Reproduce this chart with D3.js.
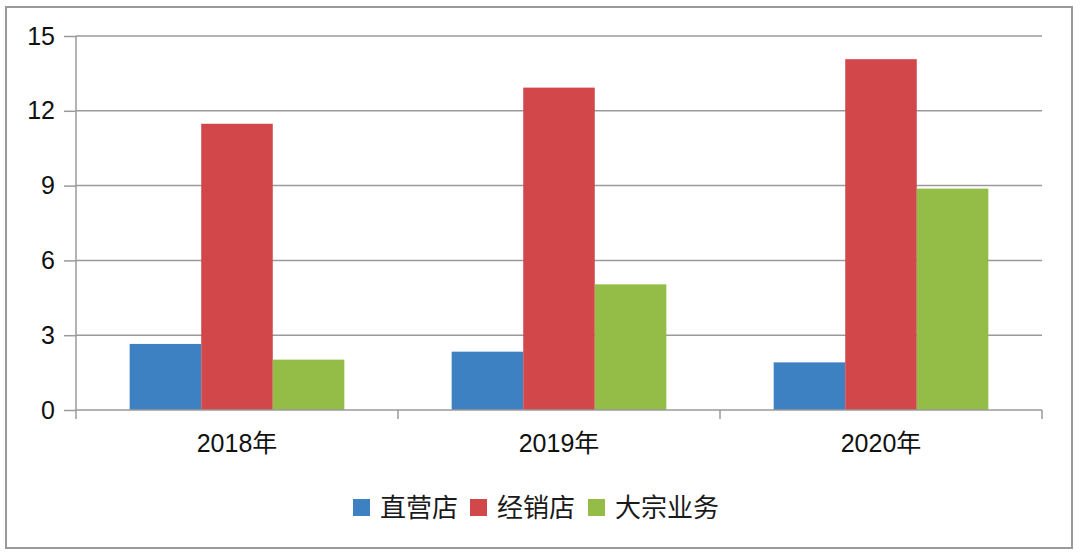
<!DOCTYPE html>
<html>
<head>
<meta charset="utf-8">
<script src="https://cdn.jsdelivr.net/npm/d3@7"></script>
<style>
  body { margin: 0; background: #fff; }
  svg { display: block; }
</style>
</head>
<body>
<div id="chart"></div>
<script>
const categories = ['2018年', '2019年', '2020年'];
const seriesNames = ['直营店', '经销店', '大宗业务'];
const directStores = [2.65, 2.34, 1.91];
const dealerStores = [11.48, 12.93, 14.07];
const bulkBusiness = [2.02, 5.04, 8.88];
const yTicks = [0, 3, 6, 9, 12, 15];
const colors = ['#3d81c3', '#d2474a', '#93bd47'];

const allSeries = [directStores, dealerStores, bulkBusiness];

const width = 1080, height = 557;
const margin = {top: 36, right: 38, bottom: 147, left: 76};
const innerW = width - margin.left - margin.right;
const innerH = height - margin.top - margin.bottom;

const svg = d3.select('#chart')
    .append('svg')
    .attr('width', width)
    .attr('height', height);

// outer frame
svg.append('rect')
    .attr('x', 6).attr('y', 7)
    .attr('width', 1066).attr('height', 541)
    .attr('fill', 'none')
    .attr('stroke', '#9a9a9a')
    .attr('stroke-width', 2);

const g = svg.append('g')
    .attr('transform', `translate(${margin.left},${margin.top})`);

const x0 = d3.scaleBand()
    .domain(categories)
    .range([0, innerW]);

const x1 = d3.scaleBand()
    .domain(seriesNames)
    .range([0, x0.bandwidth()])
    .paddingOuter(0.75)
    .paddingInner(0);

const y = d3.scaleLinear()
    .domain([0, 15])
    .range([innerH, 0]);

// gridlines
g.selectAll('.grid')
    .data(yTicks.filter(d => d > 0))
    .enter()
    .append('line')
    .attr('x1', 0).attr('x2', innerW)
    .attr('y1', d => y(d)).attr('y2', d => y(d))
    .attr('stroke', '#9a9a9a')
    .attr('stroke-width', 1.5);

// bars
const groups = g.selectAll('.group')
    .data(categories)
    .enter()
    .append('g')
    .attr('transform', d => `translate(${x0(d)},0)`);

groups.selectAll('rect')
    .data((c, i) => seriesNames.map((s, j) => ({s, v: allSeries[j][i], j})))
    .enter()
    .append('rect')
    .attr('x', d => x1(d.s))
    .attr('y', d => y(d.v))
    .attr('width', x1.bandwidth())
    .attr('height', d => innerH - y(d.v))
    .attr('fill', d => colors[d.j]);

// y axis
const yAxis = d3.axisLeft(y)
    .tickValues(yTicks)
    .tickSize(12)
    .tickPadding(9);

const yG = g.append('g').call(yAxis);
yG.select('.domain').attr('stroke', '#9a9a9a').attr('stroke-width', 1.5)
    .attr('d', `M0,${innerH}V0`);
yG.selectAll('.tick line').attr('stroke', '#9a9a9a').attr('stroke-width', 1.5);
yG.selectAll('.tick text')
    .attr('fill', '#111')
    .style('font-family', '"Liberation Sans", Arial, sans-serif')
    .style('font-size', '25px');

// x axis
const xAxis = d3.axisBottom(x0).tickSize(0).tickPadding(24);
const xG = g.append('g')
    .attr('transform', `translate(0,${innerH})`)
    .call(xAxis);
xG.select('.domain').attr('stroke', '#9a9a9a').attr('stroke-width', 1.5)
    .attr('d', `M0,0H${innerW}`);
xG.selectAll('.tick text')
    .attr('fill', '#111')
    .style('font-family', '"Liberation Sans", "Noto Sans CJK SC", sans-serif')
    .style('font-size', '25px');

// category boundary ticks
const bounds = categories.map(c => x0(c)).concat([innerW]);
xG.selectAll('.bound')
    .data(bounds)
    .enter()
    .append('line')
    .attr('x1', d => d).attr('x2', d => d)
    .attr('y1', 0).attr('y2', 9)
    .attr('stroke', '#9a9a9a')
    .attr('stroke-width', 1.5);

// legend
const legend = svg.append('g')
    .attr('transform', 'translate(353,499)');
const legendX = [0, 117, 235];
const items = legend.selectAll('.item')
    .data(seriesNames)
    .enter()
    .append('g')
    .attr('transform', (d, i) => `translate(${legendX[i]},0)`);
items.append('rect')
    .attr('width', 17).attr('height', 17)
    .attr('fill', (d, i) => colors[i]);
items.append('text')
    .attr('x', 27)
    .attr('y', 18)
    .attr('fill', '#1a1a1a')
    .style('font-family', '"Noto Sans CJK SC", sans-serif')
    .style('font-size', '26px')
    .text(d => d);
</script>
</body>
</html>
